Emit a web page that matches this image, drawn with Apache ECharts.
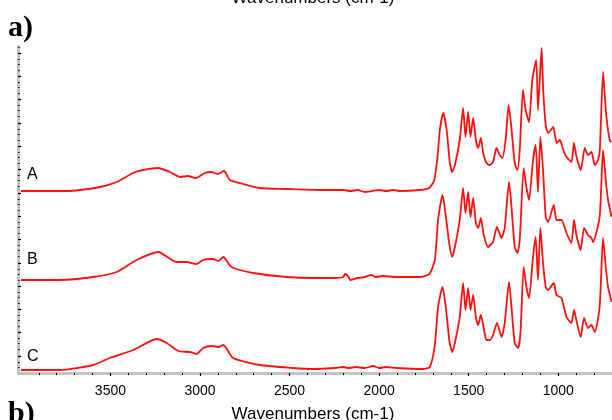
<!DOCTYPE html>
<html>
<head>
<meta charset="utf-8">
<script src="https://cdn.jsdelivr.net/npm/echarts@6/dist/echarts.min.js"></script>
<style>
html,body{margin:0;padding:0;background:#fff;}
#chart{width:612px;height:420px;}
</style>
</head>
<body>
<div id="chart"></div>
<script>
// Wavenumber tick labels
const xTickLabels = [3500, 3000, 2500, 2000, 1500, 1000];
const xMinorTicks = [];
for (let w = 800; w <= 3900; w += 100) xMinorTicks.push(w);
const yMajorTicks = [0.17, 0.41, 0.64, 0.87, 1.10, 1.34, 1.57, 1.80, 2.04, 2.27, 2.50, 2.74, 2.97, 3.20];

// Spectrum A
const wnA = [4000,3742,3670,3559,3465,3374,3318,3234,3168,3112,3068,3022,2973,2936,2900,2866,2833,2760,2666,2517,2330,2200,2160,2120,2080,2040,2000,1960,1920,1880,1774,1720,1692,1674,1661,1642,1623,1605,1592,1577,1550,1531,1518,1503,1490,1475,1460,1447,1432,1419,1401,1382,1364,1345,1327,1312,1294,1277,1262,1243,1228,1215,1197,1182,1163,1145,1123,1113,1093,1084,1069,1056,1028,1009,991,972,954,926,913,898,874,852,834,815,796,778,768,750,740,731,713,702];
const absA = [1.82,1.82,1.83,1.86,1.91,2.00,2.03,2.05,2.01,1.96,1.97,1.95,2.00,2.01,1.99,2.02,1.93,1.89,1.85,1.84,1.83,1.83,1.82,1.83,1.81,1.82,1.83,1.82,1.83,1.82,1.83,1.85,1.93,2.16,2.43,2.60,2.43,2.10,2.01,2.08,2.33,2.65,2.36,2.61,2.36,2.55,2.33,2.25,2.35,2.20,2.10,2.08,2.11,2.25,2.18,2.15,2.33,2.68,2.46,2.10,2.03,2.23,2.83,2.63,2.51,2.93,3.13,2.63,3.25,2.83,2.46,2.40,2.46,2.30,2.33,2.23,2.16,2.11,2.30,2.16,2.03,2.25,2.18,2.21,2.08,2.13,2.23,3.01,2.76,2.56,2.33,2.31];

// Spectrum B
const wnB = [4000,3782,3596,3465,3354,3233,3131,3075,3019,2982,2926,2898,2870,2824,2703,2517,2368,2250,2200,2191,2170,2163,2120,2080,2042,2020,1980,1900,1774,1720,1689,1671,1646,1627,1609,1592,1577,1550,1531,1518,1503,1490,1475,1460,1447,1432,1416,1392,1379,1364,1342,1317,1299,1275,1261,1243,1228,1215,1193,1178,1163,1141,1126,1113,1100,1085,1070,1057,1025,1010,982,954,927,912,899,875,856,834,815,806,769,750,735,722,702];
const absB = [0.93,0.93,0.96,1.01,1.13,1.21,1.11,1.11,1.09,1.13,1.14,1.12,1.16,1.06,1.00,0.96,0.95,0.95,0.96,0.99,0.96,0.93,0.95,0.96,0.98,0.96,0.97,0.96,0.96,0.99,1.13,1.53,1.78,1.56,1.30,1.16,1.26,1.53,1.85,1.60,1.81,1.56,1.75,1.50,1.45,1.55,1.38,1.26,1.28,1.31,1.46,1.35,1.45,1.91,1.66,1.26,1.20,1.33,2.05,1.86,1.73,2.13,2.28,1.81,2.36,2.03,1.56,1.51,1.68,1.53,1.53,1.40,1.30,1.53,1.38,1.23,1.45,1.38,1.35,1.31,1.56,2.23,1.93,1.73,1.56];

// Spectrum C
const wnC = [4000,3782,3596,3503,3373,3242,3186,3122,3056,3019,2982,2935,2898,2870,2815,2666,2480,2368,2250,2201,2170,2130,2080,2033,2000,1960,1900,1754,1717,1689,1671,1646,1628,1606,1591,1576,1550,1531,1518,1503,1490,1475,1460,1447,1432,1416,1401,1382,1364,1342,1317,1299,1275,1261,1243,1224,1211,1193,1178,1163,1141,1126,1113,1100,1085,1070,1057,1025,1010,982,954,927,912,899,875,856,834,815,796,769,750,735,722,702];
const absC = [0.03,0.03,0.08,0.15,0.23,0.34,0.30,0.22,0.21,0.19,0.25,0.27,0.26,0.28,0.15,0.08,0.05,0.04,0.05,0.06,0.05,0.06,0.05,0.07,0.05,0.06,0.05,0.04,0.06,0.28,0.66,0.86,0.66,0.30,0.21,0.31,0.56,0.90,0.63,0.85,0.63,0.78,0.56,0.48,0.58,0.45,0.33,0.33,0.38,0.50,0.36,0.50,0.91,0.66,0.30,0.25,0.40,1.06,0.86,0.75,1.16,1.36,0.93,1.45,1.10,0.86,0.83,0.90,0.78,0.75,0.56,0.50,0.63,0.53,0.36,0.55,0.45,0.48,0.41,0.66,1.35,1.06,0.86,0.71];

const traceLabels = ['A', 'B', 'C'];

function pairs(xs, ys) { return xs.map((x, i) => [x, ys[i]]); }

const yMinorTicks = [];
for (let i = 0; i < yMajorTicks.length; i++) {
  const step = 0.233 / 4;
  for (let k = 1; k < 4; k++) yMinorTicks.push(+(yMajorTicks[i] - k * step).toFixed(3));
}
yMinorTicks.push(3.26);

const chart = echarts.init(document.getElementById('chart'), null, {renderer: 'canvas'});
const lineStyle = {color: '#ff1010', width: 1.8};
const gridBox = {left: 18, right: 0, top: 46, bottom: 47};
const axisFont = 'Liberation Sans, Arial, sans-serif';

function mkSeries(name, xs, ys) {
  return {name: name, type: 'line', data: pairs(xs, ys), showSymbol: false, smooth: 0.2,
    lineStyle: lineStyle, itemStyle: {color: '#ff1010'}, clip: true};
}

chart.setOption({
  animation: false,
  backgroundColor: '#ffffff',
  grid: gridBox,
  xAxis: [{
    type: 'value', inverse: true, min: 700, max: 4016,
    axisLine: {show: true, lineStyle: {color: '#c4c4c4', width: 3}},
    axisTick: {show: true, customValues: xTickLabels, length: 3, inside: false, lineStyle: {color: '#000', width: 1.2}},
    axisLabel: {show: true, customValues: xTickLabels, margin: 11, fontSize: 14, color: '#000', fontFamily: axisFont,
      formatter: function (v) { return String(v); }},
    splitLine: {show: false}
  }, {
    type: 'value', inverse: true, min: 700, max: 4016, position: 'bottom',
    axisLine: {show: false},
    axisTick: {show: true, customValues: xMinorTicks, length: 2, inside: false, lineStyle: {color: '#000', width: 1}},
    axisLabel: {show: false},
    splitLine: {show: false}
  }],
  yAxis: [{
    type: 'value', min: 0, max: 3.27,
    axisLine: {show: true, lineStyle: {color: '#c4c4c4', width: 3}},
    axisTick: {show: true, customValues: yMajorTicks, length: 3, inside: true, lineStyle: {color: '#000', width: 1.2}},
    axisLabel: {show: false},
    splitLine: {show: false}
  }, {
    type: 'value', min: 0, max: 3.27, position: 'left',
    axisLine: {show: false},
    axisTick: {show: true, customValues: yMinorTicks, length: 1.5, inside: true, lineStyle: {color: '#000', width: 1}},
    axisLabel: {show: false},
    splitLine: {show: false}
  }],
  series: [
    mkSeries('A', wnA, absA),
    mkSeries('B', wnB, absB),
    mkSeries('C', wnC, absC)
  ],
  graphic: [
    {type: 'text', x: 313, y: -2, style: {text: 'Wavenumbers (cm-1)', font: '17px Liberation Sans, Arial, sans-serif', fill: '#000', textAlign: 'center', textVerticalAlign: 'middle'}},
    {type: 'text', x: 8, y: 28, style: {text: 'a)', font: 'bold 30px Liberation Serif, Times New Roman, serif', fill: '#000', textAlign: 'left', textVerticalAlign: 'middle'}},
    {type: 'text', x: 8, y: 414, style: {text: 'b)', font: 'bold 30px Liberation Serif, Times New Roman, serif', fill: '#000', textAlign: 'left', textVerticalAlign: 'middle'}},
    {type: 'text', x: 313, y: 414, style: {text: 'Wavenumbers (cm-1)', font: '17px Liberation Sans, Arial, sans-serif', fill: '#000', textAlign: 'center', textVerticalAlign: 'middle'}},
    {type: 'text', x: 27, y: 175, style: {text: traceLabels[0], font: '16px Liberation Sans, Arial, sans-serif', fill: '#000', textAlign: 'left', textVerticalAlign: 'middle'}},
    {type: 'text', x: 27, y: 260, style: {text: traceLabels[1], font: '16px Liberation Sans, Arial, sans-serif', fill: '#000', textAlign: 'left', textVerticalAlign: 'middle'}},
    {type: 'text', x: 27, y: 357, style: {text: traceLabels[2], font: '16px Liberation Sans, Arial, sans-serif', fill: '#000', textAlign: 'left', textVerticalAlign: 'middle'}}
  ]
});
</script>
</body>
</html>
